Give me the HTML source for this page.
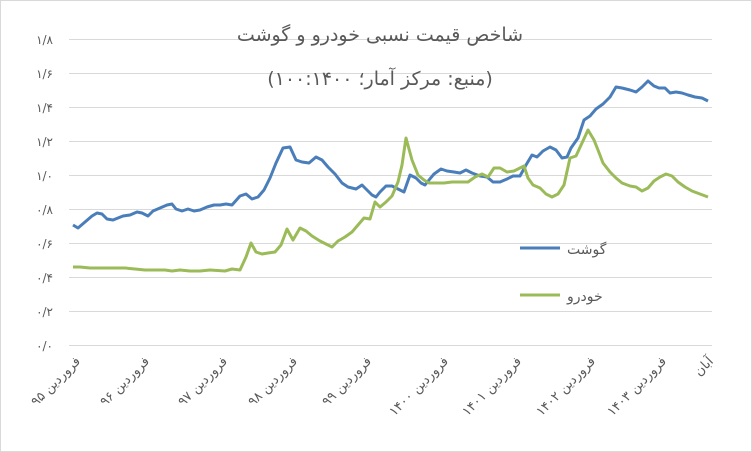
<!DOCTYPE html>
<html><head><meta charset="utf-8"><style>
html,body{margin:0;padding:0;background:#fff}
svg{display:block}
text{font-family:"DejaVu Sans","Liberation Sans",sans-serif;fill:#595959}
</style></head><body>
<svg width="752" height="452" viewBox="0 0 752 452">
<rect x="0.5" y="0.5" width="751" height="451" fill="#fff" stroke="#d9d9d9"/>
<g stroke="#d9d9d9" stroke-width="1">
<line x1="69" x2="712" y1="39.5" y2="39.5"/><line x1="69" x2="712" y1="73.5" y2="73.5"/>
<line x1="69" x2="712" y1="107.5" y2="107.5"/><line x1="69" x2="712" y1="141.5" y2="141.5"/>
<line x1="69" x2="712" y1="175.5" y2="175.5"/><line x1="69" x2="712" y1="209.5" y2="209.5"/>
<line x1="69" x2="712" y1="243.5" y2="243.5"/><line x1="69" x2="712" y1="277.5" y2="277.5"/>
<line x1="69" x2="712" y1="311.5" y2="311.5"/><line x1="69" x2="712" y1="345.5" y2="345.5"/>
</g>
<g font-size="12" text-anchor="end">
<text x="53" y="44">۱/۸</text><text x="53" y="78">۱/۶</text><text x="53" y="112">۱/۴</text>
<text x="53" y="146">۱/۲</text><text x="53" y="180">۱/۰</text><text x="53" y="214">۰/۸</text>
<text x="53" y="248">۰/۶</text><text x="53" y="282">۰/۴</text><text x="53" y="316">۰/۲</text>
<text x="53" y="350">۰/۰</text>
</g>
<text x="380" y="41" font-size="19" text-anchor="middle">شاخص قیمت نسبی خودرو و گوشت</text>
<text x="380" y="85" font-size="19" text-anchor="middle" direction="rtl">(منبع: مرکز آمار؛ ۱۰۰:۱۴۰۰)</text>
<g font-size="13" text-anchor="end">
<text transform="translate(81,362) rotate(-45)">فروردین ۹۵</text>
<text transform="translate(150,362) rotate(-45)">فروردین ۹۶</text>
<text transform="translate(228,362) rotate(-45)">فروردین ۹۷</text>
<text transform="translate(298,362) rotate(-45)">فروردین ۹۸</text>
<text transform="translate(372,362) rotate(-45)">فروردین ۹۹</text>
<text transform="translate(449,362) rotate(-45)">فروردین ۱۴۰۰</text>
<text transform="translate(522,362) rotate(-45)">فروردین ۱۴۰۱</text>
<text transform="translate(596,362) rotate(-45)">فروردین ۱۴۰۲</text>
<text transform="translate(667,362) rotate(-45)">فروردین ۱۴۰۳</text>
<text transform="translate(714,362) rotate(-45)">آبان</text>
</g>
<polyline fill="none" stroke="#4a7ebb" stroke-width="3" stroke-linejoin="round" points="73,225 78,228 85,222 92,216 97,213 102,214 107,219 113,220 118,218 123,216 130,215 137,212 142,213 148,216 153,211 160,208 167,205 172,204 176,209 182,211 188,209 194,211 200,210 207,207 214,205 220,205 226,204 232,205 240,196 246,194 252,199 258,197 264,190 270,178 276,163 283,148 290,147 296,160 302,162 309,163 316,157 322,160 328,167 335,174 342,183 348,187 356,189 362,185 368,191 372,195 376,197 380,192 386,186 392,186 398,189 404,192 410,175 416,178 421,183 425,185 429,180 434,174 441,169 447,171 454,172 460,173 466,170 472,173 480,176 487,177 493,182 500,182 507,179 513,176 520,176 526,165 532,155 537,157 543,151 550,147 556,150 562,158 567,157 571,148 578,138 584,120 590,116 596,109 603,104 610,97 616,87 622,88 630,90 636,92 642,87 648,81 654,86 659,88 665,88 670,93 676,92 682,93 688,95 695,97 702,98 708,101"/>
<polyline fill="none" stroke="#9bbb59" stroke-width="3" stroke-linejoin="round" points="73,267 80,267 90,268 110,268 125,268 135,269 145,270 165,270 172,271 180,270 190,271 200,271 210,270 225,271 232,269 240,270 246,257 251,243 256,252 262,254 268,253 275,252 281,245 287,229 293,240 300,228 306,231 312,236 320,241 326,244 332,247 338,241 345,237 352,232 358,225 364,218 370,219 375,202 380,207 386,202 392,196 398,182 402,165 406,138 412,160 418,175 424,180 429,183 436,183 444,183 452,182 460,182 468,182 475,177 482,174 488,177 494,168 500,168 507,172 514,171 520,168 524,166 528,178 533,185 540,188 546,194 552,197 558,194 564,185 570,158 576,156 582,143 588,130 594,140 598,150 603,163 610,172 616,178 622,183 630,186 636,187 642,191 648,188 654,181 660,177 666,174 672,176 678,182 685,187 692,191 700,194 708,197"/>
<line x1="520" x2="560" y1="248" y2="248" stroke="#4a7ebb" stroke-width="3"/>
<line x1="520" x2="560" y1="295" y2="295" stroke="#9bbb59" stroke-width="3"/>
<text x="567" y="254" font-size="14">گوشت</text>
<text x="567" y="301" font-size="14">خودرو</text>
</svg>
</body></html>
